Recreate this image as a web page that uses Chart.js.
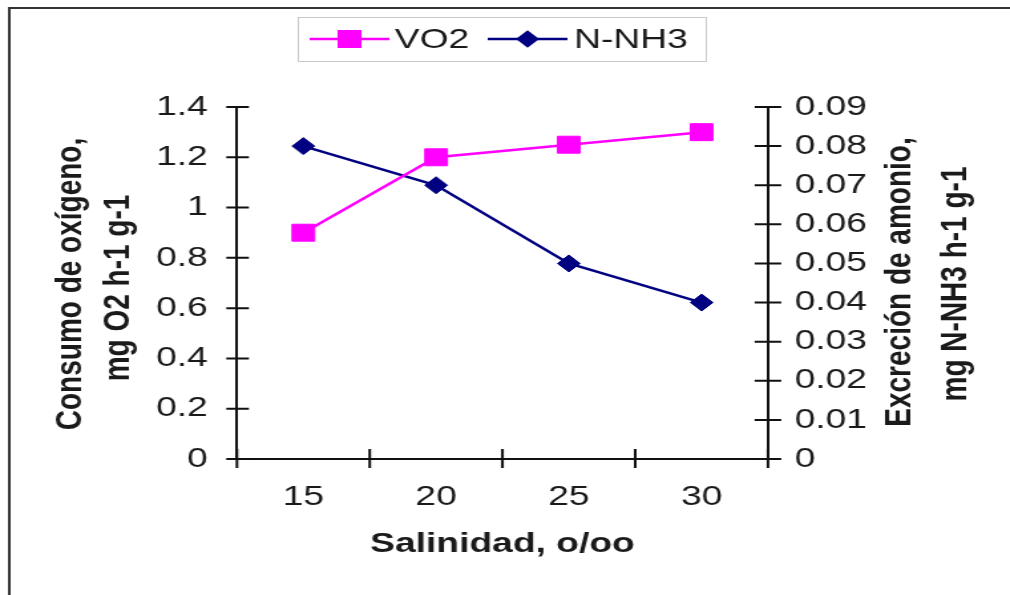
<!DOCTYPE html>
<html>
<head>
<meta charset="utf-8">
<script src="https://cdn.jsdelivr.net/npm/chart.js@4"></script>
<style>
  html, body { margin: 0; padding: 0; background: #fff; overflow: hidden; }
  /* the original picture is a 760 wide chart stretched to 1010 */
  #wrap { width: 760px; height: 595px; transform: scaleX(1.3289); transform-origin: 0 0; }
</style>
</head>
<body>
<div id="wrap"><canvas id="chart1" width="760" height="595"></canvas></div>
<script>
var salinity = ['15', '20', '25', '30'];
var vo2 = [0.9, 1.2, 1.25, 1.3];
var nnh3 = [0.08, 0.07, 0.05, 0.04];
var leftTicks = ['0', '0.2', '0.4', '0.6', '0.8', '1', '1.2', '1.4'];
var rightTicks = ['0', '0.01', '0.02', '0.03', '0.04', '0.05', '0.06', '0.07', '0.08', '0.09'];

var FONT = "'Liberation Sans', Arial, sans-serif";
var txt = '#1a1a1a';

// ticks that cross the axis lines, titles, frame and the boxed legend
var extras = {
  id: 'extras',
  afterDraw: function(chart) {
    var ctx = chart.ctx;
    var a = chart.chartArea;
    var sx = chart.scales.x, sy = chart.scales.y, sy1 = chart.scales.y1;
    ctx.save();

    // outer frame (only top and left are visible in the picture)
    ctx.strokeStyle = '#333';
    ctx.lineWidth = 2;
    ctx.beginPath();
    ctx.moveTo(7, 600); ctx.lineTo(7, 8); ctx.lineTo(770, 8);
    ctx.stroke();

    ctx.strokeStyle = '#111';
    ctx.lineWidth = 2;
    ctx.beginPath();
    sy.ticks.forEach(function(t) {
      var y = sy.getPixelForValue(t.value);
      ctx.moveTo(a.left - 8, y); ctx.lineTo(a.left + 9, y);
    });
    sy1.ticks.forEach(function(t) {
      var y = sy1.getPixelForValue(t.value);
      ctx.moveTo(a.right - 10, y); ctx.lineTo(a.right + 10, y);
    });
    for (var i = 0; i <= salinity.length; i++) {
      var x = sx.getPixelForValue(i - 0.5);
      ctx.moveTo(x, a.bottom - 10); ctx.lineTo(x, a.bottom + 9);
    }
    ctx.stroke();

    // axis titles
    ctx.fillStyle = txt;
    ctx.font = 'bold 28px ' + FONT;
    ctx.textAlign = 'center';
    ctx.textBaseline = 'middle';
    ctx.fillText('Salinidad, o/oo', (a.left + a.right) / 2, 544);

    function vtitle(x, y, s) {
      ctx.save();
      ctx.translate(x, y);
      ctx.rotate(-Math.PI / 2);
      ctx.fillText(s, 0, 0);
      ctx.restore();
    }
    vtitle(53, 284, 'Consumo de oxígeno,');
    vtitle(89, 288, 'mg O2 h-1 g-1');
    vtitle(677, 282, 'Excreción de amonio,');
    vtitle(719, 284, 'mg N-NH3 h-1 g-1');

    // legend
    ctx.strokeStyle = '#c8c8c8';
    ctx.lineWidth = 1;
    ctx.strokeRect(224.5, 17.5, 307, 44);
    var ly = 39;
    var items = [
      { ds: chart.data.datasets[0], x0: 233, x1: 293, tx: 297 },
      { ds: chart.data.datasets[1], x0: 367, x1: 427, tx: 432 }
    ];
    items.forEach(function(it) {
      ctx.strokeStyle = it.ds.borderColor;
      ctx.lineWidth = 2.5;
      ctx.beginPath();
      ctx.moveTo(it.x0, ly); ctx.lineTo(it.x1, ly);
      ctx.stroke();
      ctx.fillStyle = it.ds.backgroundColor;
      Chart.helpers.drawPoint(ctx, {
        pointStyle: it.ds.pointStyle,
        radius: it.ds.pointStyle === 'rect' ? 11 : 7,
        borderWidth: 1
      }, (it.x0 + it.x1) / 2, ly);
      ctx.fillStyle = txt;
      ctx.font = '28px ' + FONT;
      ctx.textAlign = 'left';
      ctx.fillText(it.ds.label, it.tx, ly + 1);
    });
    ctx.restore();
  }
};

var ctx = document.getElementById('chart1').getContext('2d');
var myChart = new Chart(ctx, {
  type: 'line',
  data: {
    labels: salinity,
    datasets: [{
      label: 'VO2',
      data: vo2,
      yAxisID: 'y',
      borderColor: '#ff00ff',
      backgroundColor: '#ff00ff',
      borderWidth: 2.5,
      pointStyle: 'rect',
      pointRadius: 12,
      pointHoverRadius: 12,
      pointBorderWidth: 1
    }, {
      label: 'N-NH3',
      data: nnh3,
      yAxisID: 'y1',
      borderColor: '#000080',
      backgroundColor: '#000080',
      borderWidth: 2.5,
      pointStyle: 'rectRot',
      pointRadius: 8.5,
      pointHoverRadius: 8.5,
      pointBorderWidth: 1
    }]
  },
  options: {
    responsive: false,
    animation: false,
    devicePixelRatio: 1,
    layout: { padding: { top: 107, left: 0, right: 0, bottom: 0 } },
    plugins: { legend: { display: false }, tooltip: { enabled: false } },
    scales: {
      x: {
        offset: true,
        grid: { display: false, drawTicks: false },
        border: { display: true, color: '#111', width: 2 },
        ticks: { color: txt, font: { family: FONT, size: 28 }, padding: 21, maxRotation: 0 },
        afterFit: function(s) { s.height = 136; }
      },
      y: {
        position: 'left',
        min: 0, max: 1.4,
        grid: { display: false, drawTicks: false },
        border: { display: true, color: '#111', width: 2 },
        ticks: {
          stepSize: 0.2, color: txt, font: { family: FONT, size: 28 }, padding: 22,
          callback: function(v, i) { return leftTicks[i]; }
        },
        afterFit: function(s) { s.width = 178.3; }
      },
      y1: {
        position: 'right',
        min: 0, max: 0.09,
        grid: { display: false, drawTicks: false },
        border: { display: true, color: '#111', width: 2 },
        ticks: {
          stepSize: 0.01, color: txt, font: { family: FONT, size: 28 }, padding: 20,
          callback: function(v, i) { return rightTicks[i]; }
        },
        afterFit: function(s) { s.width = 760 - 577.9; }
      }
    }
  },
  plugins: [extras]
});
</script>
</body>
</html>
